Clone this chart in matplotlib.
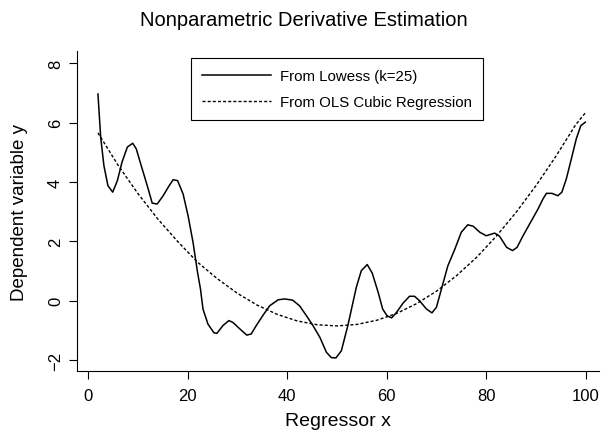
import numpy as np
import matplotlib.pyplot as plt

plt.rcParams['font.family'] = ['Liberation Sans', 'DejaVu Sans']

# Lowess-based estimate
x_lowess = [2.0, 2.55, 3.2, 4.0, 4.96, 5.9, 6.83, 7.9, 8.98, 9.7, 10.7, 11.9,
            12.9, 13.9, 15.1, 16.2, 17.1, 18.0, 19.1, 20.1, 21.1, 22.0, 22.6,
            23.1, 24.1, 25.3, 25.9, 27.1, 28.3, 29.1, 30.5, 31.9, 32.8, 33.8,
            35.2, 36.5, 38.2, 39.5, 41.1, 42.5, 43.9, 45.2, 46.6, 47.9, 48.9,
            49.8, 50.9, 52.2, 53.9, 54.9, 56.1, 57.1, 58.3, 59.2, 60.1, 61.0,
            62.0, 63.3, 64.6, 65.6, 66.6, 68.0, 69.1, 70.0, 71.0, 72.3, 73.7,
            75.0, 76.3, 77.4, 78.7, 80.0, 81.7, 82.7, 84.1, 85.3, 86.2, 87.4,
            89.1, 90.4, 91.4, 92.1, 93.2, 94.4, 95.2, 96.1, 97.1, 98.1, 99.0,
            99.9]
y_lowess = [6.97, 5.51, 4.55, 3.88, 3.66, 4.05, 4.67, 5.18, 5.31, 5.12, 4.55,
            3.88, 3.29, 3.26, 3.54, 3.85, 4.08, 4.05, 3.60, 2.87, 1.97, 0.96,
            0.39, -0.28, -0.79, -1.08, -1.10, -0.84, -0.67, -0.73, -0.95, -1.16,
            -1.12, -0.84, -0.48, -0.17, 0.03, 0.06, 0.02, -0.17, -0.51, -0.84,
            -1.24, -1.74, -1.92, -1.93, -1.69, -0.84, 0.45, 1.01, 1.22, 0.93,
            0.28, -0.28, -0.51, -0.58, -0.39, -0.08, 0.15, 0.15, 0.00, -0.28,
            -0.41, -0.22, 0.39, 1.18, 1.74, 2.31, 2.56, 2.51, 2.31, 2.19, 2.28,
            2.17, 1.80, 1.69, 1.80, 2.19, 2.70, 3.09, 3.43, 3.62, 3.62, 3.54,
            3.66, 4.11, 4.78, 5.46, 5.90, 6.02]

# OLS cubic regression estimate
x_ols = [2, 6, 10, 14, 18, 22, 26, 30, 34, 38, 42, 46, 50, 54, 58, 62, 66,
         70, 74, 78, 82, 86, 90, 94, 98, 100]
y_ols = [5.66, 4.58, 3.62, 2.76, 2.00, 1.30, 0.74, 0.25, -0.15, -0.46, -0.68,
         -0.81, -0.85, -0.80, -0.66, -0.43, -0.10, 0.32, 0.84, 1.45, 2.17,
         2.98, 3.88, 4.87, 5.94, 6.35]

W, H = 602, 435
fig = plt.figure(figsize=(W / 100, H / 100), dpi=100)
ax = fig.add_axes([76.7 / W, 1 - 372.3 / H, (598.7 - 76.7) / W, (372.3 - 52.3) / H])

ax.plot(x_lowess, y_lowess, color='black', lw=1.1, label='From Lowess (k=25)')
ax.plot(x_ols, y_ols, color='black', lw=1.0, linestyle=(0, (2.2, 1.5)),
        label='From OLS Cubic Regression')

ax.set_xlim(-2.27, 102.6)
ax.set_ylim(-2.38, 8.41)
ax.set_xticks([0, 20, 40, 60, 80, 100])
ax.set_yticks([-2, 0, 2, 4, 6, 8])

for side in ['top', 'right']:
    ax.spines[side].set_visible(False)
for side in ['left', 'bottom']:
    ax.spines[side].set_linewidth(0.8)

ax.tick_params(axis='both', length=5.8, width=0.8, labelsize=12)
ax.tick_params(axis='x', pad=6.5)
ax.tick_params(axis='y', pad=4)
for lab in ax.get_yticklabels():
    lab.set_rotation(90)
    lab.set_va('center')

ax.set_xlabel('Regressor x', fontsize=14, labelpad=6)
ax.set_ylabel('Dependent variable y', fontsize=13.5, labelpad=14.5)
fig.text(304 / W, 1 - 20 / H, 'Nonparametric Derivative Estimation',
         fontsize=14.5, ha='center', va='center')

leg = ax.legend(loc='upper left', bbox_to_anchor=(190.7 / W, 1 - 59 / H),
                bbox_transform=fig.transFigure, borderaxespad=0, fontsize=10.8,
                handlelength=4.6, handletextpad=0.6, borderpad=0.73,
                labelspacing=0.8, fancybox=False, framealpha=1,
                edgecolor='black')
leg.get_frame().set_linewidth(0.8)

fig.savefig('out.png', dpi=100)
